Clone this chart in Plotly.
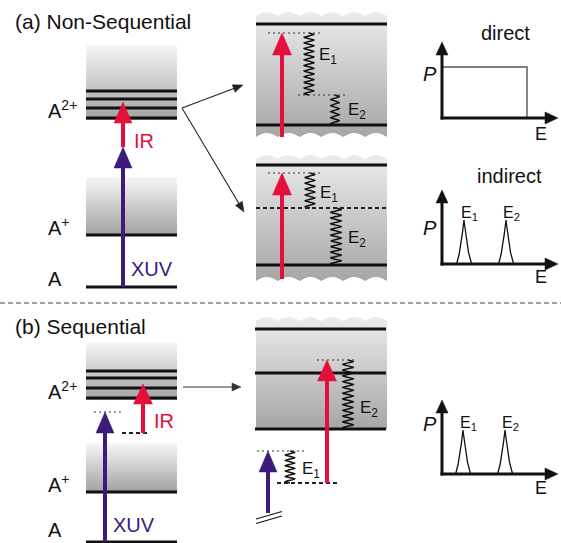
import numpy as np
import plotly.graph_objects as go

W, H = 561, 543
RED = "#e3103c"
PURPLE = "#3b1b7b"
INK = "#111111"
FONT = "Liberation Sans, Arial, Helvetica, sans-serif"

# ---------------- panel (a): level scheme ----------------
LADDER_X = [86, 177]
a_dication_band = [45, 120]            # A2+ continuum (top, bottom)
a_dication_levels = [91, 99, 108, 118]
a_cation_band = [177, 235]
a_cation_level = 235
a_ground_level = 287
a_arrow_x = 123
a_xuv = [287, 147]                     # tail, tip
a_ir = [147, 102]

# close-ups of the A2+ continuum
ZOOM_X = [256, 387]
direct_band = [12, 133]                # wavy top, wavy bottom
direct_levels = [24, 125]
direct_ir = [137, 33]
direct_virtual = [33, 95]
indirect_band = [155, 277]
indirect_levels = [165, 265]
indirect_intermediate = 208
indirect_ir = [279, 173]
indirect_virtual = 173

# ---------------- panel (b): level scheme ----------------
b_dication_band = [342, 400]
b_dication_levels = [371, 378, 388, 398]
b_cation_band = [443, 492]
b_cation_level = 492
b_ground_level = 542
b_xuv_x, b_xuv = 105, [542, 412]
b_ir_x, b_ir = 143, [433, 384]
b_virtual = 412
b_intermediate = 433

seq_band = [317, 429]
seq_levels = [329, 373, 429]
seq_xuv_x, seq_xuv = 268, [513, 451]
seq_ir_x, seq_ir = 327, [483, 360]
seq_virtual = [451, 360]
seq_intermediate = 483

# ---------------- electron spectra (arb. units) ----------------
direct_cutoff = 8.5
direct_height = 5.1
peak_centers_a = [2.2, 6.4]
peak_centers_b = [2.1, 6.3]
peak_height = 4.4
peak_halfwidth = 0.8

shapes, annotations, traces = [], [], []


def seg(x0, y0, x1, y1, color=INK, width=3, dash=None, xref="x", yref="y"):
    ln = dict(color=color, width=width)
    if dash:
        ln["dash"] = dash
    shapes.append(dict(type="line", x0=x0, y0=y0, x1=x1, y1=y1,
                       xref=xref, yref=yref, line=ln))


def arrow(x0, y0, x1, y1, color, width, head_len, head_w, xref="x", yref="y"):
    dx, dy = x1 - x0, y1 - y0
    n = np.hypot(dx, dy)
    ux, uy = dx / n, dy / n
    bx, by = x1 - ux * head_len, y1 - uy * head_len
    nx, ny = -uy, ux
    seg(x0, y0, bx + ux * head_len * 0.3, by + uy * head_len * 0.3,
        color, width, xref=xref, yref=yref)
    path = (f"M {x1},{y1} L {bx + nx * head_w / 2},{by + ny * head_w / 2} "
            f"L {bx - nx * head_w / 2},{by - ny * head_w / 2} Z")
    shapes.append(dict(type="path", path=path, xref=xref, yref=yref,
                       fillcolor=color, line=dict(color=color, width=0.5)))


WAVE, AMP = 21.8, 4.0


def band(x0, x1, top, bottom, c_top, c_bot, wavy_top=False, wavy_bottom=False):
    xs = np.linspace(x0, x1, 300)

    def edge(base, wavy):
        if not wavy:
            return np.full_like(xs, float(base))
        return base + AMP - AMP * np.abs(np.sin(np.pi * (xs - x0) / WAVE))

    yt, yb = edge(top, wavy_top), edge(bottom, wavy_bottom)
    traces.append(go.Scatter(
        x=np.concatenate([xs, xs[::-1]]), y=np.concatenate([yt, yb[::-1]]),
        fill="toself", mode="none", hoverinfo="skip",
        fillgradient=dict(type="vertical", colorscale=[[0, c_top], [1, c_bot]],
                          start=float(yt.min()), stop=float(yb.max()))))


def spring(x, y0, y1, amp=4.8, pitch=5.7):
    n = max(2, int(round(abs(y1 - y0) / pitch)))
    t = np.linspace(0, 1, 40 * n)
    traces.append(go.Scatter(x=x + amp * np.sin(2 * np.pi * n * t),
                             y=y0 + (y1 - y0) * t, mode="lines", hoverinfo="skip",
                             line=dict(color=INK, width=1.5)))


def label(x, y, text, size, color=INK, xanchor="left", xref="x", yref="y", yshift=0):
    annotations.append(dict(x=x, y=y, xref=xref, yref=yref, text=text, showarrow=False,
                            xanchor=xanchor, yanchor="middle", yshift=yshift,
                            font=dict(family=FONT, size=size, color=color)))


def dotted(x0, x1, y):
    seg(x0, y, x1, y, "#333333", 1.2, "2px,3px")


def dashed(x0, x1, y):
    seg(x0, y, x1, y, "#222222", 2.2, "4px,3px")


LEFT_TOP, LEFT_BOT = "#f7f7f7", "#a2a2a2"
MID_TOP, MID_BOT = "#ececec", "#a6a6a6"

# ======================= panel (a) =======================
label(13, 21, "(a) Non-Sequential", 21)

band(*LADDER_X, *a_dication_band, LEFT_TOP, LEFT_BOT)
band(*LADDER_X, *a_cation_band, LEFT_TOP, LEFT_BOT)
for y in a_dication_levels:
    seg(LADDER_X[0], y, LADDER_X[1], y)
seg(LADDER_X[0], a_cation_level, LADDER_X[1], a_cation_level)
seg(LADDER_X[0], a_ground_level, LADDER_X[1], a_ground_level)
arrow(a_arrow_x, a_xuv[0], a_arrow_x, a_xuv[1], PURPLE, 4, 21, 18)
arrow(a_arrow_x, a_ir[0], a_arrow_x, a_ir[1], RED, 4, 21, 18)
label(46, 109, "A<sup>2+</sup>", 20)
label(46, 226, "A<sup>+</sup>", 20)
label(46, 279, "A", 20)
label(132, 141, "IR", 20, RED)
label(129, 269, "XUV", 20, PURPLE)

# branching arrows to the two close-ups
arrow(182, 108, 243, 85, "#222222", 1.1, 10, 8)
arrow(182, 108, 244, 212, "#222222", 1.1, 10, 8)

# direct double ionisation
band(*ZOOM_X, *direct_band, MID_TOP, MID_BOT, wavy_top=True, wavy_bottom=True)
dotted(268, 323, direct_virtual[0])
dotted(298, 347, direct_virtual[1])
spring(309, direct_virtual[0], direct_virtual[1])
spring(335, direct_virtual[1], direct_levels[1], amp=4.2)
for y in direct_levels:
    seg(ZOOM_X[0], y, ZOOM_X[1], y)
arrow(282, direct_ir[0], 282, direct_ir[1], RED, 4, 22, 19)
label(317, 56, "E<sub>1</sub>", 17)
label(346, 111, "E<sub>2</sub>", 17)

# indirect (via intermediate state)
band(*ZOOM_X, *indirect_band, MID_TOP, MID_BOT, wavy_top=True, wavy_bottom=True)
dotted(268, 323, indirect_virtual)
dashed(ZOOM_X[0], ZOOM_X[1], indirect_intermediate)
spring(310, indirect_virtual, indirect_intermediate)
spring(336, indirect_intermediate, indirect_levels[1], amp=5.2)
for y in indirect_levels:
    seg(ZOOM_X[0], y, ZOOM_X[1], y)
arrow(282, indirect_ir[0], 282, indirect_ir[1], RED, 4, 22, 19)
label(318, 194, "E<sub>1</sub>", 17)
label(346, 239, "E<sub>2</sub>", 17)

# separator between the panels
seg(0, 303, W, 303, "#444444", 1, "5px,3px")

# ======================= panel (b) =======================
label(13, 326, "(b) Sequential", 21)

band(*LADDER_X, *b_dication_band, LEFT_TOP, LEFT_BOT)
band(*LADDER_X, *b_cation_band, LEFT_TOP, LEFT_BOT)
for y in b_dication_levels:
    seg(LADDER_X[0], y, LADDER_X[1], y)
seg(LADDER_X[0], b_cation_level, LADDER_X[1], b_cation_level)
seg(LADDER_X[0], b_ground_level, LADDER_X[1], b_ground_level)
dotted(94, 123, b_virtual)
dashed(122, 150, b_intermediate)
arrow(b_xuv_x, b_xuv[0], b_xuv_x, b_xuv[1], PURPLE, 4, 21, 18)
arrow(b_ir_x, b_ir[0], b_ir_x, b_ir[1], RED, 4, 20, 19)
label(46, 390, "A<sup>2+</sup>", 20)
label(46, 483, "A<sup>+</sup>", 20)
label(46, 530, "A", 20)
label(152, 421, "IR", 20, RED)
label(111, 525, "XUV", 20, PURPLE)

arrow(183, 387, 241, 387, "#333333", 1.1, 9, 8)

band(*ZOOM_X, *seq_band, MID_TOP, MID_BOT, wavy_top=True)
dotted(317, 357, seq_virtual[1])
spring(348, seq_virtual[1], seq_levels[2], amp=5.2)
for y in seq_levels:
    seg(255, y, 386, y)
dotted(257, 305, seq_virtual[0])
dashed(277, 337, seq_intermediate)
spring(290, seq_virtual[0], seq_intermediate, amp=4.6)
arrow(seq_ir_x, seq_ir[0], seq_ir_x, seq_ir[1], RED, 4, 21, 19)
arrow(seq_xuv_x, seq_xuv[0], seq_xuv_x, seq_xuv[1], PURPLE, 4, 21, 18)
seg(256, 519, 282, 511.5, INK, 1.1)
seg(256, 523.5, 282, 516, INK, 1.1)
label(300, 470, "E<sub>1</sub>", 17)
label(358, 409, "E<sub>2</sub>", 17)

# ======================= electron spectra =======================
insets = {2: (442, 118), 3: (442, 264), 4: (442, 474)}
axes = {}
for n, (ox, oy) in insets.items():
    axes[f"xaxis{n}"] = dict(domain=[(ox - 20) / W, (ox + 118) / W], range=[-2.0, 11.8],
                             visible=False, anchor=f"y{n}", fixedrange=True)
    axes[f"yaxis{n}"] = dict(domain=[1 - (oy + 20) / H, 1 - (oy - 85) / H], range=[-2.0, 8.5],
                             visible=False, anchor=f"x{n}", fixedrange=True)

# flat distribution for direct ionisation
shapes.append(dict(type="rect", xref="x2", yref="y2", x0=0, x1=direct_cutoff,
                   y0=0, y1=direct_height, line=dict(color="#555555", width=1.4)))


def peaks(n, centers):
    for c in centers:
        u = np.linspace(-1, 1, 121)
        traces.append(go.Scatter(x=c + u * peak_halfwidth, y=peak_height * (1 - np.abs(u)) ** 1.6,
                                 mode="lines", xaxis=f"x{n}", yaxis=f"y{n}", hoverinfo="skip",
                                 line=dict(color=INK, width=1.3)))


peaks(3, peak_centers_a)
peaks(4, peak_centers_b)

for n, p_tip in [(2, 7.6), (3, 7.4), (4, 7.4)]:
    xr, yr = f"x{n}", f"y{n}"
    arrow(0, -0.15, 0, p_tip, INK, 3, 1.3, 1.2, xref=xr, yref=yr)
    arrow(-0.15, 0, 11.6, 0, INK, 3, 1.3, 1.2, xref=xr, yref=yr)
    label(-1.25, {2: 4.4, 3: 3.6, 4: 5.0}[n], "<i>P</i>", 20, xanchor="center", xref=xr, yref=yr)
    label(9.9, {2: -1.6, 3: -1.3, 4: -1.4}[n], "E", 18, xanchor="center", xref=xr, yref=yr)

label(505, 33, "direct", 20, xanchor="center")
label(509, 176, "indirect", 20, xanchor="center")
for n, centers in [(3, peak_centers_a), (4, peak_centers_b)]:
    for i, c in enumerate(centers):
        label(c + 0.5, peak_height + 0.6, f"E<sub>{i + 1}</sub>", 16, xanchor="center",
              xref=f"x{n}", yref=f"y{n}")

fig = go.Figure(traces)
fig.update_layout(
    width=W, height=H, margin=dict(l=0, r=0, t=0, b=0),
    paper_bgcolor="white", plot_bgcolor="rgba(0,0,0,0)",
    showlegend=False, hovermode=False,
    xaxis=dict(range=[0, W], visible=False, fixedrange=True),
    yaxis=dict(range=[H, 0], visible=False, fixedrange=True),
    shapes=shapes, annotations=annotations, **axes,
)
fig.write_html("out.html", config={"displayModeBar": False})
